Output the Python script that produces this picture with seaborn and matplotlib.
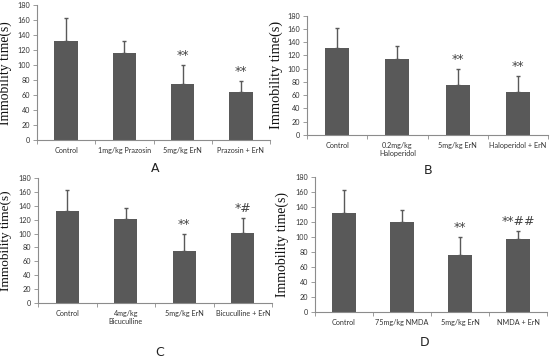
import numpy as np
import pandas as pd
import seaborn as sns
import matplotlib.pyplot as plt

# Data (mean immobility time and upper SD)
labels_a = ["Control", "1mg/kg Prazosin", "5mg/kg ErN", "Prazosin + ErN"]
means_a = [132, 116, 75, 64]
errs_a = [31, 16, 25, 15]
marks_a = ["", "", "**", "**"]

labels_b = ["Control", "0.2mg/kg\nHaloperidol", "5mg/kg ErN", "Haloperidol + ErN"]
means_b = [132, 115, 75, 65]
errs_b = [30, 19, 25, 24]
marks_b = ["", "", "**", "**"]

labels_c = ["Control", "4mg/kg\nBicuculline", "5mg/kg ErN", "Bicuculline + ErN"]
means_c = [132, 121, 75, 101]
errs_c = [30, 16, 25, 21]
marks_c = ["", "", "**", "*#"]

labels_d = ["Control", "75mg/kg NMDA", "5mg/kg ErN", "NMDA + ErN"]
means_d = [132, 120, 75, 97]
errs_d = [30, 15, 25, 10]
marks_d = ["", "", "**", "**##"]

panel_names = ["A", "B", "C", "D"]

sns.set_style("white")

W, H = 550, 363
fig = plt.figure(figsize=(W / 100, H / 100), dpi=100)

# axes boxes in pixels: left, right, top, bottom
boxes = [(37, 270, 5.3, 140), (307, 548, 15.7, 135),
         (38, 272, 177.7, 303.3), (315, 547, 176.7, 311.7)]
letter_pos = [(155, 168), (428, 170), (160, 353), (425, 343)]
label_x = [12.5, 283, 12.5, 289]
label_size = [9.8, 10.3, 9.5, 10]

panels = [(labels_a, means_a, errs_a, marks_a),
          (labels_b, means_b, errs_b, marks_b),
          (labels_c, means_c, errs_c, marks_c),
          (labels_d, means_d, errs_d, marks_d)]

bar_color = "#595959"
axis_color = "#8c8c8c"

for i, (labels, means, errs, marks) in enumerate(panels):
    l, r, t, b = boxes[i]
    ax = fig.add_axes([l / W, 1 - b / H, (r - l) / W, (b - t) / H])
    df = pd.DataFrame({"group": labels, "time": means})
    sns.barplot(data=df, x="group", y="time", color=bar_color, width=0.4,
                saturation=1, ax=ax, linewidth=0)
    x = np.arange(len(labels))
    ax.errorbar(x, means, yerr=[np.zeros(len(errs)), errs], fmt="none",
                ecolor=bar_color, elinewidth=1, capsize=1.5, capthick=1)
    for xi, m, e, mk in zip(x, means, errs, marks):
        if mk:
            ax.text(xi, m + e + 4, mk, ha="center", va="bottom",
                    fontsize=9, color="#444444")
    ax.set_ylim(0, 180)
    ax.set_xlim(-0.5, len(labels) - 0.5)
    ax.set_yticks(range(0, 181, 20))
    ax.set_yticklabels([str(v) for v in range(0, 181, 20)], family="Lato",
                       fontsize=5.2)
    ax.set_xticks(np.arange(-0.5, len(labels), 1.0), minor=False)
    ax.set_xticklabels([])
    ax.set_xticks(x, minor=True)
    ax.set_xticklabels(labels, minor=True, fontsize=5.2, color="#333333",
                       family="Lato")
    ax.tick_params(axis="x", which="minor", length=0, pad=5)
    ax.tick_params(axis="x", which="major", length=3, width=0.6,
                   color=axis_color, direction="out", bottom=True)
    ax.tick_params(axis="y", length=3, width=0.6, color=axis_color,
                   direction="out", left=True, labelcolor="#333333", pad=2)
    for s in ["top", "right"]:
        ax.spines[s].set_visible(False)
    for s in ["left", "bottom"]:
        ax.spines[s].set_color(axis_color)
        ax.spines[s].set_linewidth(0.8)
    ax.set_xlabel("")
    ax.set_ylabel("Immobility time(s)", family="Liberation Serif",
                  fontsize=label_size[i], color="#111111")
    ax.yaxis.set_label_coords((label_x[i] - l) / (r - l), 0.5)
    lx, ly = letter_pos[i]
    fig.text(lx / W, 1 - ly / H, panel_names[i], ha="center", va="center",
             fontsize=9, color="#222222")

fig.savefig("out.png", dpi=100, facecolor="white")
